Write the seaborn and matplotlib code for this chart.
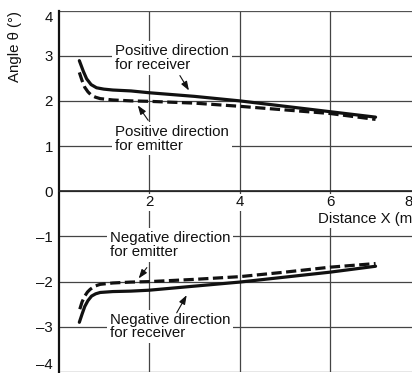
import numpy as np
import pandas as pd
import matplotlib
matplotlib.use("Agg")
import matplotlib.pyplot as plt
import matplotlib.transforms as mtransforms
import seaborn as sns

# data
x_pos_recv = [0.46, 0.55, 0.62, 0.72, 0.84, 1.0, 1.2, 1.6, 2.0, 3.0, 4.0, 5.0, 6.0, 7.0]
y_pos_recv = [2.89, 2.65, 2.49, 2.36, 2.29, 2.26, 2.24, 2.22, 2.18, 2.10, 2.00, 1.88, 1.76, 1.64]

x_pos_emit = [0.46, 0.52, 0.58, 0.65, 0.73, 0.82, 0.92, 1.2, 1.6, 2.0, 3.0, 4.0, 5.0, 6.0, 7.0]
y_pos_emit = [2.63, 2.45, 2.30, 2.20, 2.12, 2.08, 2.05, 2.02, 2.00, 1.99, 1.95, 1.88, 1.80, 1.72, 1.59]

x_neg_recv = [0.46, 0.52, 0.58, 0.65, 0.73, 0.82, 0.92, 1.2, 1.6, 2.0, 3.0, 4.0, 5.0, 6.0, 7.0]
y_neg_recv = [-2.90, -2.72, -2.55, -2.42, -2.32, -2.27, -2.24, -2.22, -2.21, -2.19, -2.10, -2.01, -1.90, -1.79, -1.66]

x_neg_emit = [0.47, 0.52, 0.58, 0.64, 0.70, 0.80, 0.92, 1.2, 1.6, 2.0, 3.0, 4.0, 5.0, 6.0, 7.0]
y_neg_emit = [-2.61, -2.45, -2.32, -2.23, -2.17, -2.10, -2.06, -2.03, -2.01, -2.00, -1.95, -1.89, -1.79, -1.68, -1.60]

x_ticks = [2, 4, 6, 8]
y_ticks = [-4, -3, -2, -1, 0, 1, 2, 3, 4]
y_tick_labels = ["\u20134", "\u20133", "\u20132", "\u20131", "0", "1", "2", "3", "4"]

notes = ["Positive direction\nfor receiver", "Positive direction\nfor emitter",
         "Negative direction\nfor emitter", "Negative direction\nfor receiver"]
note_xy = [(1.25, 2.95), (1.25, 1.16), (1.14, -1.19), (1.14, -2.99)]
arrow_tail = [(2.68, 2.56), (1.98, 1.57), (1.95, -1.69), (2.61, -2.69)]
arrow_tip = [(2.88, 2.23), (1.75, 1.90), (1.77, -1.93), (2.83, -2.30)]

FS = 10.8

sns.set_style("white")
plt.rcParams['font.family'] = ['Liberation Sans', 'DejaVu Sans']
plt.rcParams['font.size'] = FS

fig = plt.figure(figsize=(4.12, 3.73), dpi=100)
ax = fig.add_axes([58.5 / 412, 1 / 373, 385 / 412, 361.5 / 373])

ink = "#111111"
sns.lineplot(x=x_pos_recv, y=y_pos_recv, ax=ax, color=ink, lw=2.3, zorder=4)
sns.lineplot(x=x_neg_recv, y=y_neg_recv, ax=ax, color=ink, lw=2.3, zorder=4)
sns.lineplot(x=x_pos_emit, y=y_pos_emit, ax=ax, color=ink, lw=2.3, zorder=4).lines[-1].set_dashes((3.2, 1.4))
sns.lineplot(x=x_neg_emit, y=y_neg_emit, ax=ax, color=ink, lw=2.3, zorder=4).lines[-1].set_dashes((3.2, 1.4))

ax.set_xlim(0, 8.5)
ax.set_ylim(-4, 4)
ax.set_xticks(x_ticks)
ax.set_yticks(y_ticks)
ax.set_yticklabels(y_tick_labels)
ax.grid(True, color="#444444", lw=0.9, zorder=0)
ax.set_axisbelow(True)

for s in ["top", "right"]:
    ax.spines[s].set_visible(False)
ax.spines["left"].set_linewidth(1.6)
ax.spines["left"].set_color(ink)
ax.spines["bottom"].set_position(("data", 0))
ax.spines["bottom"].set_linewidth(1.2)
ax.spines["bottom"].set_color("#222222")
ax.axhline(4, color="#555555", lw=1.2, zorder=1)
ax.tick_params(axis="both", length=0, labelsize=FS, colors=ink)
ax.tick_params(axis="y", pad=4)
ax.tick_params(axis="x", pad=3)

# keep the outer y labels inside the frame like the reference
ylbls = ax.get_yticklabels()
ylbls[0].set_va("bottom")
ylbls[-1].set_va("top")

xlbls = ax.get_xticklabels()
for lbl in xlbls:
    lbl.set_bbox(dict(facecolor="white", edgecolor="none", pad=1))
# the "8" sits a bit left, partly cut by the figure edge
xlbls[-1].set_transform(xlbls[-1].get_transform() +
                        mtransforms.ScaledTranslation(-9 / 72, 0, fig.dpi_scale_trans))

ax.text(5.73, -0.62, "Distance X (m)", ha="left", va="center", fontsize=FS,
        color=ink, bbox=dict(facecolor="white", edgecolor="none", pad=1), zorder=3)

fig.text(15 / 412, 1 - 47 / 373, "Angle \u03b8 (\u00b0)", rotation=90,
         ha="center", va="center", fontsize=FS, color=ink)

for t, (tx, ty), tail, tip in zip(notes, note_xy, arrow_tail, arrow_tip):
    ax.text(tx, ty, t, ha="left", va="center", fontsize=FS, color=ink, linespacing=0.95,
            bbox=dict(facecolor="white", edgecolor="none", pad=2), zorder=3)
    ax.annotate("", xy=tip, xytext=tail, zorder=5,
                arrowprops=dict(arrowstyle="-|>,head_length=0.5,head_width=0.18", color=ink, lw=0.8,
                                shrinkA=0, shrinkB=0))

fig.savefig("out.png", dpi=100)
